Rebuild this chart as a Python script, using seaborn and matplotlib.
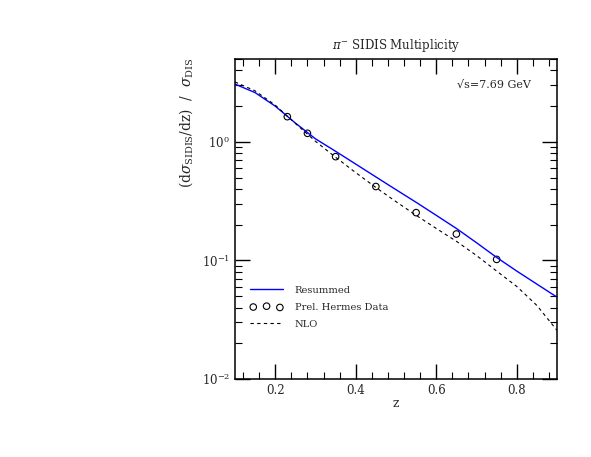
import numpy as np
import pandas as pd
import matplotlib
matplotlib.use("Agg")
import matplotlib.pyplot as plt
import seaborn as sns
from matplotlib.ticker import MultipleLocator, LogLocator, NullFormatter

# resummed curve (blue)
z_res = [0.10, 0.15, 0.20, 0.25, 0.30, 0.35, 0.40, 0.45, 0.50, 0.55,
         0.60, 0.65, 0.70, 0.75, 0.80, 0.85, 0.90]
res = [3.07, 2.6, 2.0, 1.44, 1.06, 0.832, 0.649, 0.506, 0.395, 0.309,
       0.240, 0.186, 0.141, 0.106, 0.0813, 0.0631, 0.049]

# NLO curve (dashed)
z_nlo = [0.10, 0.15, 0.20, 0.25, 0.30, 0.35, 0.40, 0.45, 0.50, 0.55,
         0.60, 0.65, 0.70, 0.75, 0.80, 0.85, 0.90]
nlo = [3.2, 2.69, 2.04, 1.43, 1.01, 0.741, 0.55, 0.412, 0.313, 0.24,
       0.186, 0.145, 0.11, 0.0813, 0.0603, 0.0417, 0.0257]

# preliminary HERMES data
z_data = [0.23, 0.28, 0.35, 0.45, 0.55, 0.65, 0.75]
mult = [1.63, 1.18, 0.75, 0.42, 0.253, 0.167, 0.102]

df_res = pd.DataFrame({"z": z_res, "m": res})
df_nlo = pd.DataFrame({"z": z_nlo, "m": nlo})
df_dat = pd.DataFrame({"z": z_data, "m": mult})

sns.set_style("ticks")
plt.rcParams["font.family"] = ["DejaVu Serif"]
plt.rcParams["mathtext.fontset"] = "dejavuserif"

fig = plt.figure(figsize=(5.91, 4.57), dpi=100)
ax = fig.add_axes([0.3976, 0.1707, 0.5449, 0.7003])

sns.lineplot(data=df_res, x="z", y="m", ax=ax, color="#0000ff", lw=1.0,
             label="Resummed")
sns.scatterplot(data=df_dat, x="z", y="m", ax=ax, marker="o", s=22,
                facecolor="none", edgecolor="black", linewidth=0.8,
                label="Prel. Hermes Data")
sns.lineplot(data=df_nlo, x="z", y="m", ax=ax, color="black", lw=0.8,
             dashes=False, label="NLO")
ax.lines[-1].set_linestyle((0, (3, 3)))

ax.set_yscale("log")
ax.set_xlim(0.1, 0.9)
ax.set_ylim(0.01, 5)

ax.xaxis.set_major_locator(MultipleLocator(0.2))
ax.xaxis.set_minor_locator(MultipleLocator(0.04))
ax.yaxis.set_major_locator(LogLocator(base=10))
ax.yaxis.set_minor_locator(LogLocator(base=10, subs=np.arange(2, 10)))
ax.yaxis.set_minor_formatter(NullFormatter())

ax.tick_params(which="both", direction="in", top=True, right=True,
               labelsize=8.5, color="black")
ax.tick_params(which="major", length=11, width=1)
ax.tick_params(which="minor", length=5, width=0.8)
for sp in ax.spines.values():
    sp.set_linewidth(1.1)
    sp.set_color("black")

ax.set_xlabel("z", fontsize=9, labelpad=0)
ax.set_ylabel(r"$(\mathrm{d}\sigma_{\mathrm{SIDIS}}/\mathrm{dz})\ \ /\ \ \sigma_{\mathrm{DIS}}$",
              fontsize=10)
ax.yaxis.set_label_coords(-0.125, 0.80)
ax.set_title(r"$\pi^{-}$ SIDIS Multiplicity", fontsize=8.5, pad=7)
ax.text(0.92, 0.92, "\u221as=7.69 GeV", transform=ax.transAxes, ha="right",
        va="center", fontsize=8)

handles, labels = ax.get_legend_handles_labels()
ax.legend(handles, labels, loc="lower left", bbox_to_anchor=(0.02, 0.13),
          frameon=False, fontsize=7.1, scatterpoints=3, handlelength=3.3,
          handletextpad=1.2, labelspacing=0.8)

fig.savefig("out.png", dpi=100)
